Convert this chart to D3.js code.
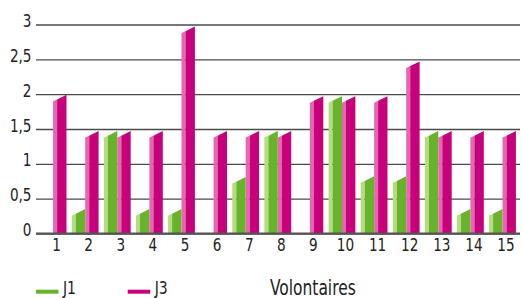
<!DOCTYPE html>
<html>
<head>
<meta charset="utf-8">
<title>Volontaires J1 / J3</title>
<script src="https://d3js.org/d3.v7.min.js"></script>
<style>
    body{ margin:0; background:#fff; }
    text{ font-family:"Liberation Sans Narrow","Arial Narrow","DejaVu Sans Condensed",sans-serif; fill:#222; }
</style>
</head>
<body>
<svg id="chart" width="522" height="298"></svg>
<script>
// data
var categories = [1,2,3,4,5,6,7,8,9,10,11,12,13,14,15];
var seriesNames = ["J1","J3"];
var j1 = [0, 0.35, 1.47, 0.35, 0.35, 0, 0.81, 1.47, 0, 1.97, 0.82, 0.82, 1.47, 0.35, 0.35];
var j3 = [1.99, 1.47, 1.47, 1.47, 2.97, 1.47, 1.47, 1.47, 1.97, 1.97, 1.97, 2.47, 1.47, 1.47, 1.47];
var yTicks = [0, 0.5, 1, 1.5, 2, 2.5, 3];

var colors = {
    J1: {dark:"#67b42a", light:"#b4dc80"},
    J3: {dark:"#c7007c", light:"#e468ac"}
};

var svg = d3.select("#chart");
var pLeft = 36, pRight = 520, pTop = 24.5, pBottom = 233.5;
var sx = 0.84; // squeeze text horizontally, the original font is condensed

var y = d3.scaleLinear().domain([0,3]).range([pBottom, pTop]);
var x0 = d3.scaleBand().domain(categories).range([36, 519.6])
    .paddingInner(0.165).paddingOuter(0.115);
var x1 = d3.scaleBand().domain(seriesNames).range([0, x0.bandwidth()]);

// grid + y labels
var yAxis = d3.axisLeft(y).tickValues(yTicks)
    .tickSize(-(pRight-pLeft))
    .tickFormat(function(d){ return String(d).replace(".", ","); });
var gy = svg.append("g").attr("transform", "translate(" + pLeft + ",0)").call(yAxis);
gy.select(".domain").remove();
gy.selectAll(".tick line").attr("stroke", "#4a4a4a").attr("stroke-width", 1.3);
gy.selectAll(".tick text").attr("x", -4.5/sx).attr("dy", "0.12em")
    .attr("transform", "scale(" + sx + ",1)")
    .attr("font-size", 18).attr("fill", "#222");

// bars (light side face + dark front with slanted top)
var rows = [];
categories.forEach(function(c, i){
    rows.push({cat:c, s:"J1", v:j1[i]});
    rows.push({cat:c, s:"J3", v:j3[i]});
});
var side = 4, drop = 6.5;
var bars = svg.append("g");
rows.forEach(function(d){
    if(d.v <= 0) return;
    var xs = x0(d.cat) + x1(d.s);
    var w = x1.bandwidth();
    var yr = y(d.v);
    var yl = Math.min(yr + drop, pBottom);
    var ym = Math.min(yr + drop*(1 - side/w), pBottom);
    bars.append("polygon")
        .attr("points", [[xs,pBottom],[xs,yl],[xs+side,ym],[xs+side,pBottom]].join(" "))
        .attr("fill", colors[d.s].light);
    bars.append("polygon")
        .attr("points", [[xs+side,pBottom],[xs+side,ym],[xs+w,yr],[xs+w,pBottom]].join(" "))
        .attr("fill", colors[d.s].dark);
});

// base line
svg.append("line").attr("x1", pLeft).attr("x2", pRight)
    .attr("y1", pBottom).attr("y2", pBottom)
    .attr("stroke", "#555").attr("stroke-width", 2);

// x labels
var xAxis = d3.axisBottom(x0).tickSize(0).tickPadding(0);
var gx = svg.append("g").attr("transform", "translate(3.5," + pBottom + ")").call(xAxis);
gx.select(".domain").remove();
gx.selectAll(".tick text").attr("y", 17.5).attr("dy", 0)
    .attr("transform", "scale(" + sx + ",1)")
    .attr("font-size", 18).attr("fill", "#222");

// legend
var legend = svg.append("g");
var legendItems = [{name:"J1", x:36}, {name:"J3", x:127.7}];
legendItems.forEach(function(it){
    legend.append("rect").attr("x", it.x).attr("y", 289.7)
        .attr("width", 22.5).attr("height", 4)
        .attr("fill", colors[it.name].dark);
    legend.append("text").attr("transform", "translate(" + (it.x + 27) + ",294) scale(" + sx + ",1)")
        .attr("font-size", 18.5).text(it.name);
});
legend.append("text").attr("transform", "translate(270,294.5) scale(" + sx + ",1)")
    .attr("font-size", 20.5).text("Volontaires");
</script>
</body>
</html>
